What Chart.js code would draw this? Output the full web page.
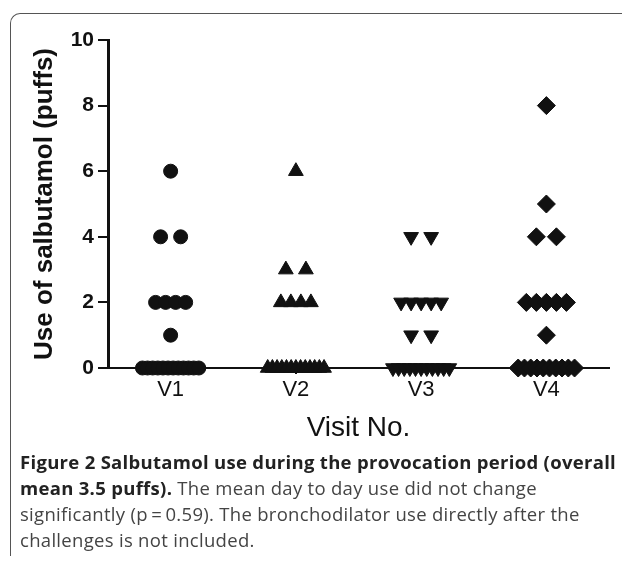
<!DOCTYPE html>
<html>
<head>
<meta charset="utf-8">
<title>Salbutamol use</title>
<script src="https://cdn.jsdelivr.net/npm/chart.js@4.4.1/dist/chart.umd.min.js"></script>
<style>
    body { margin: 0; background: #fff; width: 622px; height: 562px; overflow: hidden; position: relative; }
    .frame {
        position: absolute; left: 10px; top: 13px; width: 640px; height: 542px;
        border-left: 1.5px solid #555; border-top: 1.5px solid #555;
        border-top-left-radius: 10px;
    }
    #chart { position: absolute; left: 0; top: 0; }
    .caption {
        position: absolute; left: 20px; top: 449px; width: 602px;
        font-family: "Open Sans", sans-serif; font-size: 18.5px; line-height: 26px;
        color: #444; letter-spacing: 0.3px; white-space: nowrap;
    }
    .caption b { color: #222; }
</style>
</head>
<body>
<div class="frame"></div>
<canvas id="chart" width="622" height="450"></canvas>
<div class="caption">
    <b>Figure 2 Salbutamol use during the provocation period (overall</b><br>
    <b>mean 3.5 puffs).</b> The mean day to day use did not change<br>
    significantly (p&#8201;=&#8201;0.59). The bronchodilator use directly after the<br>
    challenges is not included.
</div>

<script>
    // puffs per patient, one array per visit
    const visits = ['V1', 'V2', 'V3', 'V4'];
    const v1Puffs = [6, 4, 4, 2, 2, 2, 2, 1, 0, 0, 0, 0, 0, 0, 0, 0, 0, 0, 0, 0];
    const v2Puffs = [6, 3, 3, 2, 2, 2, 2, 0, 0, 0, 0, 0, 0, 0, 0, 0, 0, 0, 0, 0];
    const v3Puffs = [4, 4, 2, 2, 2, 2, 2, 1, 1, 0, 0, 0, 0, 0, 0, 0, 0, 0, 0, 0];
    const v4Puffs = [8, 5, 4, 4, 2, 2, 2, 2, 2, 1, 0, 0, 0, 0, 0, 0, 0, 0, 0, 0];
    const yTicks = [0, 2, 4, 6, 8, 10];

    const SLOT = 0.08;     // spacing of side-by-side points, in visit units
    const ROW_MAX = 0.45;  // widest a row of equal values may get

    // scatter equal values side by side around the visit position
    function spread(values, center) {
        const counts = {};
        values.forEach(v => counts[v] = (counts[v] || 0) + 1);
        const seen = {};
        return values.map(v => {
            const n = counts[v];
            const k = seen[v] = (seen[v] === undefined ? 0 : seen[v] + 1);
            let step = n === 2 ? 2 * SLOT : SLOT;
            if ((n - 1) * step > ROW_MAX) step = ROW_MAX / (n - 1);
            return {x: center + (k - (n - 1) / 2) * step, y: v};
        });
    }

    const markers = [
        {pointStyle: 'circle', radius: 7, rotation: 0},
        {pointStyle: 'triangle', radius: 8.5, rotation: 0},
        {pointStyle: 'triangle', radius: 8.5, rotation: 180},
        {pointStyle: 'rectRot', radius: 9, rotation: 0}
    ];

    const datasets = [v1Puffs, v2Puffs, v3Puffs, v4Puffs].map((vals, i) => ({
        label: visits[i],
        data: spread(vals, i + 1),
        pointStyle: markers[i].pointStyle,
        pointRadius: markers[i].radius,
        pointRotation: markers[i].rotation,
        pointBackgroundColor: '#111',
        pointBorderColor: '#111',
        pointBorderWidth: 1,
        pointHoverRadius: markers[i].radius,
        showLine: false,
        clip: false
    }));

    const axisFont = '"Liberation Sans", Arial, sans-serif';

    const ctx = document.getElementById('chart').getContext('2d');
    const chart = new Chart(ctx, {
        type: 'scatter',
        data: {datasets: datasets},
        options: {
            responsive: false,
            animation: false,
            layout: {padding: {top: 40, right: 13, left: 0, bottom: 0}},
            plugins: {
                legend: {display: false},
                tooltip: {enabled: false}
            },
            scales: {
                x: {
                    type: 'linear',
                    min: 0.5,
                    max: 4.5,
                    afterBuildTicks: s => { s.ticks = visits.map((v, i) => ({value: i + 1})); },
                    afterFit: s => { s.height = 82; },
                    ticks: {
                        autoSkip: false,
                        maxRotation: 0,
                        callback: v => visits[v - 1],
                        color: '#111',
                        padding: 3,
                        font: {family: axisFont, size: 22}
                    },
                    grid: {drawOnChartArea: false, drawTicks: true, tickLength: 6, color: '#111', lineWidth: 2},
                    border: {display: true, color: '#111', width: 2},
                    title: {
                        display: true,
                        text: 'Visit No.',
                        color: '#111',
                        font: {family: axisFont, size: 28},
                        padding: {top: 0, bottom: 5}
                    }
                },
                y: {
                    min: 0,
                    max: 10,
                    afterBuildTicks: s => { s.ticks = yTicks.map(v => ({value: v})); },
                    afterFit: s => { s.width = 108; },
                    ticks: {
                        color: '#111',
                        padding: 4,
                        font: {family: axisFont, size: 21, weight: 'bold'}
                    },
                    grid: {drawOnChartArea: false, drawTicks: true, tickLength: 10, color: '#111', lineWidth: 2},
                    border: {display: true, color: '#111', width: 3},
                    title: {
                        display: true,
                        text: 'Use of salbutamol (puffs)',
                        color: '#111',
                        font: {family: axisFont, size: 26, weight: 'bold'},
                        padding: {top: 29, bottom: 0}
                    }
                }
            }
        }
    });
</script>
</body>
</html>
